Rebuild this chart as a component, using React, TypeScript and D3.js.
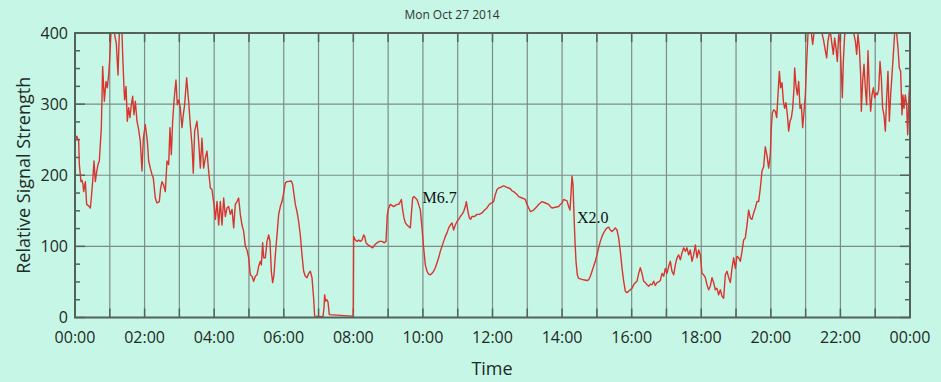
import React from "react";
import * as d3 from "d3";

const title = "Mon Oct 27 2014";
const xLabel = "Time";
const yLabel = "Relative Signal Strength";
const xTickHours = [0, 2, 4, 6, 8, 10, 12, 14, 16, 18, 20, 22, 24];
const xTickLabels = ["00:00", "02:00", "04:00", "06:00", "08:00", "10:00", "12:00", "14:00", "16:00", "18:00", "20:00", "22:00", "00:00"];
const yTicks = [0, 100, 200, 300, 400];

// time in hours (UT), signal value
const times = [
  0.000, 0.048, 0.105, 0.125, 0.172, 0.201, 0.230, 0.249, 0.297, 0.335, 0.393, 0.441, 0.469, 0.508, 0.546, 0.584, 0.623, 0.661, 0.699, 0.757,
  0.795, 0.843, 0.891, 0.929, 0.967, 0.996, 1.034, 1.130, 1.188, 1.236, 1.274, 1.351, 1.370, 1.408, 1.427, 1.466, 1.504, 1.542, 1.580, 1.619,
  1.657, 1.695, 1.734, 1.782, 1.830, 1.877, 1.925, 1.964, 2.021, 2.079, 2.117, 2.165, 2.213, 2.251, 2.308, 2.356, 2.423, 2.462, 2.500, 2.548,
  2.596, 2.644, 2.692, 2.730, 2.768, 2.807, 2.845, 2.902, 2.941, 2.979, 3.027, 3.075, 3.113, 3.151, 3.209, 3.266, 3.314, 3.362, 3.400, 3.439,
  3.506, 3.554, 3.602, 3.649, 3.697, 3.745, 3.793, 3.841, 3.889, 3.937, 3.994, 4.034, 4.082, 4.130, 4.177, 4.225, 4.273, 4.321, 4.369, 4.417,
  4.465, 4.513, 4.561, 4.608, 4.656, 4.704, 4.752, 4.800, 4.848, 4.896, 4.944, 4.992, 5.040, 5.087, 5.135, 5.183, 5.231, 5.279, 5.327, 5.356,
  5.394, 5.423, 5.471, 5.518, 5.566, 5.605, 5.643, 5.681, 5.720, 5.758, 5.806, 5.854, 5.902, 5.949, 5.997, 6.045, 6.093, 6.218, 6.256, 6.294,
  6.333, 6.380, 6.428, 6.476, 6.524, 6.572, 6.620, 6.668, 6.716, 6.764, 6.812, 6.859, 6.888, 7.099, 7.128, 7.156, 7.175, 7.204, 7.242, 7.271,
  7.310, 7.961, 8.000, 8.010, 8.058, 8.106, 8.154, 8.201, 8.249, 8.297, 8.326, 8.364, 8.422, 8.489, 8.556, 8.613, 8.680, 8.747, 8.824, 8.891,
  8.939, 8.977, 9.016, 9.064, 9.159, 9.255, 9.303, 9.351, 9.380, 9.418, 9.456, 9.495, 9.543, 9.590, 9.638, 9.667, 9.705, 9.744, 9.782, 9.830,
  9.878, 9.926, 9.973, 10.021, 10.069, 10.117, 10.165, 10.213, 10.261, 10.309, 10.357, 10.405, 10.452, 10.500, 10.548, 10.596, 10.644, 10.692, 10.740, 10.788,
  10.836, 10.883, 10.931, 10.979, 11.027, 11.075, 11.123, 11.171, 11.219, 11.248, 11.295, 11.334, 11.372, 11.410, 11.487, 11.554, 11.621, 11.698, 11.774, 11.841,
  11.908, 11.966, 12.033, 12.082, 12.130, 12.178, 12.273, 12.321, 12.417, 12.513, 12.561, 12.609, 12.657, 12.704, 12.752, 12.848, 12.944, 12.992, 13.040, 13.088,
  13.135, 13.183, 13.279, 13.327, 13.375, 13.423, 13.519, 13.614, 13.662, 13.710, 13.806, 13.902, 13.950, 13.997, 14.045, 14.141, 14.189, 14.227, 14.256, 14.285,
  14.314, 14.342, 14.371, 14.400, 14.438, 14.476, 14.620, 14.716, 14.764, 14.812, 14.860, 14.907, 14.955, 15.003, 15.051, 15.099, 15.147, 15.195, 15.243, 15.291,
  15.339, 15.386, 15.434, 15.482, 15.530, 15.578, 15.626, 15.674, 15.722, 15.770, 15.817, 15.865, 15.913, 15.961, 16.009, 16.058, 16.106, 16.154, 16.202, 16.249,
  16.297, 16.345, 16.393, 16.441, 16.489, 16.537, 16.585, 16.633, 16.680, 16.728, 16.776, 16.824, 16.872, 16.920, 16.968, 17.016, 17.064, 17.112, 17.159, 17.207,
  17.255, 17.303, 17.351, 17.399, 17.447, 17.495, 17.543, 17.590, 17.638, 17.686, 17.734, 17.782, 17.830, 17.878, 17.926, 17.974, 18.021, 18.069, 18.117, 18.165,
  18.213, 18.261, 18.309, 18.357, 18.405, 18.452, 18.500, 18.548, 18.596, 18.644, 18.692, 18.740, 18.788, 18.836, 18.884, 18.931, 18.979, 19.027, 19.075, 19.123,
  19.171, 19.219, 19.267, 19.315, 19.362, 19.410, 19.458, 19.506, 19.554, 19.602, 19.650, 19.698, 19.746, 19.793, 19.841, 19.889, 19.937, 19.985, 20.014, 20.043,
  20.081, 20.130, 20.168, 20.206, 20.245, 20.283, 20.321, 20.360, 20.398, 20.436, 20.475, 20.513, 20.551, 20.590, 20.628, 20.666, 20.685, 20.724, 20.762, 20.800,
  20.839, 20.877, 20.915, 20.954, 20.992, 21.030, 21.069, 21.164, 21.203, 21.241, 21.471, 21.519, 21.567, 21.605, 21.643, 21.682, 21.720, 21.758, 21.796, 21.835,
  21.873, 21.911, 21.950, 21.988, 22.026, 22.055, 22.084, 22.122, 22.160, 22.381, 22.429, 22.467, 22.505, 22.544, 22.582, 22.601, 22.639, 22.678, 22.716, 22.754,
  22.793, 22.831, 22.869, 22.908, 22.946, 22.984, 23.023, 23.061, 23.099, 23.138, 23.176, 23.214, 23.252, 23.291, 23.329, 23.367, 23.406, 23.444, 23.482, 23.521,
  23.559, 23.616, 23.655, 23.693, 23.731, 23.770, 23.798, 23.827, 23.865, 23.904, 23.933, 23.971, 24.000,
];

const values = [
  248, 255, 248, 215, 191, 193, 187, 177, 191, 159, 157, 154, 168, 191, 220, 191, 205, 215, 220, 267,
  353, 304, 332, 323, 341, 362, 400, 400, 385, 341, 400, 400, 370, 323, 306, 325, 276, 295, 281, 299,
  311, 285, 304, 276, 264, 248, 206, 252, 271, 248, 220, 210, 201, 196, 168, 161, 163, 182, 191, 186,
  177, 220, 215, 267, 229, 276, 304, 334, 299, 306, 295, 267, 285, 299, 337, 304, 271, 243, 203, 262,
  276, 248, 210, 252, 210, 224, 234, 206, 182, 180, 159, 138, 163, 130, 163, 130, 168, 142, 154, 156,
  145, 152, 126, 159, 163, 168, 145, 130, 121, 100, 95, 84, 60, 58, 51, 58, 60, 72, 79, 74,
  105, 84, 84, 107, 116, 107, 65, 49, 60, 88, 116, 145, 156, 163, 175, 189, 191, 192, 187, 173,
  159, 149, 135, 116, 88, 65, 58, 56, 62, 65, 56, 27, 2, 1, 2, 13, 32, 23, 25, 22,
  4, 2, 2, 114, 109, 107, 109, 107, 109, 116, 114, 105, 102, 100, 98, 102, 105, 107, 107, 105,
  107, 145, 154, 159, 156, 159, 159, 163, 166, 151, 140, 133, 130, 128, 126, 145, 168, 170, 168, 166,
  159, 151, 126, 98, 74, 65, 61, 60, 62, 65, 70, 77, 84, 93, 100, 107, 114, 119, 126, 130,
  133, 123, 130, 135, 138, 142, 145, 149, 156, 163, 149, 140, 138, 142, 142, 145, 145, 147, 151, 154,
  159, 161, 163, 173, 180, 182, 184, 185, 183, 181, 178, 177, 175, 173, 170, 168, 166, 159, 154, 149,
  150, 151, 156, 159, 161, 163, 161, 159, 156, 154, 155, 156, 159, 161, 166, 164, 156, 151, 173, 199,
  187, 145, 107, 79, 60, 55, 53, 52, 53, 58, 65, 72, 79, 88, 98, 107, 114, 119, 123, 126,
  127, 123, 121, 123, 126, 123, 112, 93, 70, 51, 37, 35, 37, 39, 41, 46, 49, 51, 62, 70,
  62, 51, 49, 46, 44, 47, 46, 51, 45, 49, 50, 52, 62, 58, 69, 62, 72, 79, 65, 60,
  74, 84, 88, 81, 91, 98, 93, 98, 88, 95, 79, 88, 102, 84, 95, 88, 62, 60, 56, 46,
  39, 44, 56, 49, 39, 41, 32, 39, 30, 27, 60, 65, 56, 49, 69, 84, 69, 86, 84, 79,
  93, 109, 112, 130, 151, 140, 138, 147, 154, 163, 163, 182, 206, 212, 240, 228, 210, 229, 267, 287,
  292, 290, 281, 313, 346, 323, 330, 304, 294, 302, 285, 262, 276, 281, 294, 323, 351, 325, 313, 332,
  294, 299, 267, 290, 313, 360, 400, 400, 384, 400, 400, 389, 375, 365, 389, 400, 398, 384, 370, 393,
  379, 360, 398, 389, 346, 309, 360, 398, 400, 400, 389, 370, 398, 379, 341, 290, 332, 356, 323, 299,
  375, 323, 290, 313, 323, 309, 316, 313, 320, 360, 337, 294, 285, 262, 309, 346, 276, 313, 341, 370,
  400, 400, 379, 351, 346, 285, 313, 294, 313, 299, 257, 313, 332,
];

const annotationLabels = ["M6.7", "X2.0"];
const annotationHours = [9.99, 14.43];
const annotationValues = [161, 133];

const W = 941;
const H = 382;
const M = { left: 75, right: 910, top: 33, bottom: 317.5 };
const BG = "#c6f7e6";
const GRID = "#7f8c86";
const AXIS = "#55625c";
const TEXT = "#1e2a24";
const SANS = "'Open Sans', 'Noto Sans', sans-serif";

export default function App() {
  const x = d3.scaleLinear().domain([0, 24]).range([M.left, M.right]);
  const y = d3.scaleLinear().domain([0, 400]).range([M.bottom, M.top]);
  const pts: [number, number][] = times.map((t, i) => [t, values[i]]);
  const line = d3
    .line<[number, number]>()
    .x((d) => x(d[0]))
    .y((d) => y(d[1]));
  const hours = d3.range(0, 25);
  const minor = d3.range(0, 401, 25);
  const gridY = [100, 200, 300];

  return (
    <svg
      width={W}
      height={H}
      style={{ position: "absolute", left: 0, top: 0, display: "block" }}
    >
      <defs>
        <clipPath id="plotclip">
          <rect x={M.left} y={M.top} width={M.right - M.left} height={M.bottom - M.top} />
        </clipPath>
      </defs>
      <rect x={0} y={0} width={W} height={H} fill={BG} />
      <text x={452} y={19} textAnchor="middle" fontFamily={SANS} fontSize={12} fill="#333">
        {title}
      </text>
      {/* grid */}
      {hours.slice(1, 24).map((h) => (
        <line key={"gx" + h} x1={x(h)} x2={x(h)} y1={M.top} y2={M.bottom} stroke={GRID} strokeWidth={1.2} />
      ))}
      {gridY.map((v) => (
        <line key={"gy" + v} x1={M.left} x2={M.right} y1={y(v)} y2={y(v)} stroke={GRID} strokeWidth={1.2} />
      ))}
      {/* ticks */}
      {hours.map((h) => (
        <g key={"tx" + h}>
          <line x1={x(h)} x2={x(h)} y1={M.top} y2={M.top + 9} stroke={AXIS} strokeWidth={1.5} />
          <line x1={x(h)} x2={x(h)} y1={M.bottom} y2={M.bottom - 9} stroke={AXIS} strokeWidth={1.5} />
        </g>
      ))}
      {minor.map((v) => {
        const len = v % 100 === 0 ? 10 : 5;
        return (
          <g key={"ty" + v}>
            <line x1={M.left} x2={M.left + len} y1={y(v)} y2={y(v)} stroke={AXIS} strokeWidth={1.5} />
            <line x1={M.right} x2={M.right - len} y1={y(v)} y2={y(v)} stroke={AXIS} strokeWidth={1.5} />
          </g>
        );
      })}
      {/* data line */}
      <path d={line(pts) || ""} fill="none" stroke="#d8352f" strokeWidth={1.4} strokeLinejoin="round" clipPath="url(#plotclip)" />
      {/* frame */}
      <rect x={M.left} y={M.top} width={M.right - M.left} height={M.bottom - M.top} fill="none" stroke={AXIS} strokeWidth={2} />
      {/* annotations */}
      {annotationLabels.map((s, i) => (
        <text key={s} x={x(annotationHours[i])} y={y(annotationValues[i])} fontFamily="'Liberation Serif', 'Times New Roman', serif" fontSize={16} fill="#111">
          {s}
        </text>
      ))}
      {/* axis labels */}
      {xTickHours.map((h, i) => (
        <text key={"xl" + i} x={x(h)} y={342.5} textAnchor="middle" fontFamily={SANS} fontSize={16} fill={TEXT}>
          {xTickLabels[i]}
        </text>
      ))}
      {yTicks.map((v) => (
        <text key={"yl" + v} x={68} y={y(v) + 5.5} textAnchor="end" fontFamily={SANS} fontSize={16} fill={TEXT}>
          {v}
        </text>
      ))}
      <text x={492} y={375} textAnchor="middle" fontFamily={SANS} fontSize={18} fill={TEXT}>
        {xLabel}
      </text>
      <text
        transform={`translate(30, ${(M.top + M.bottom) / 2}) rotate(-90)`}
        textAnchor="middle"
        fontFamily={SANS}
        fontSize={18}
        fill={TEXT}
      >
        {yLabel}
      </text>
    </svg>
  );
}
